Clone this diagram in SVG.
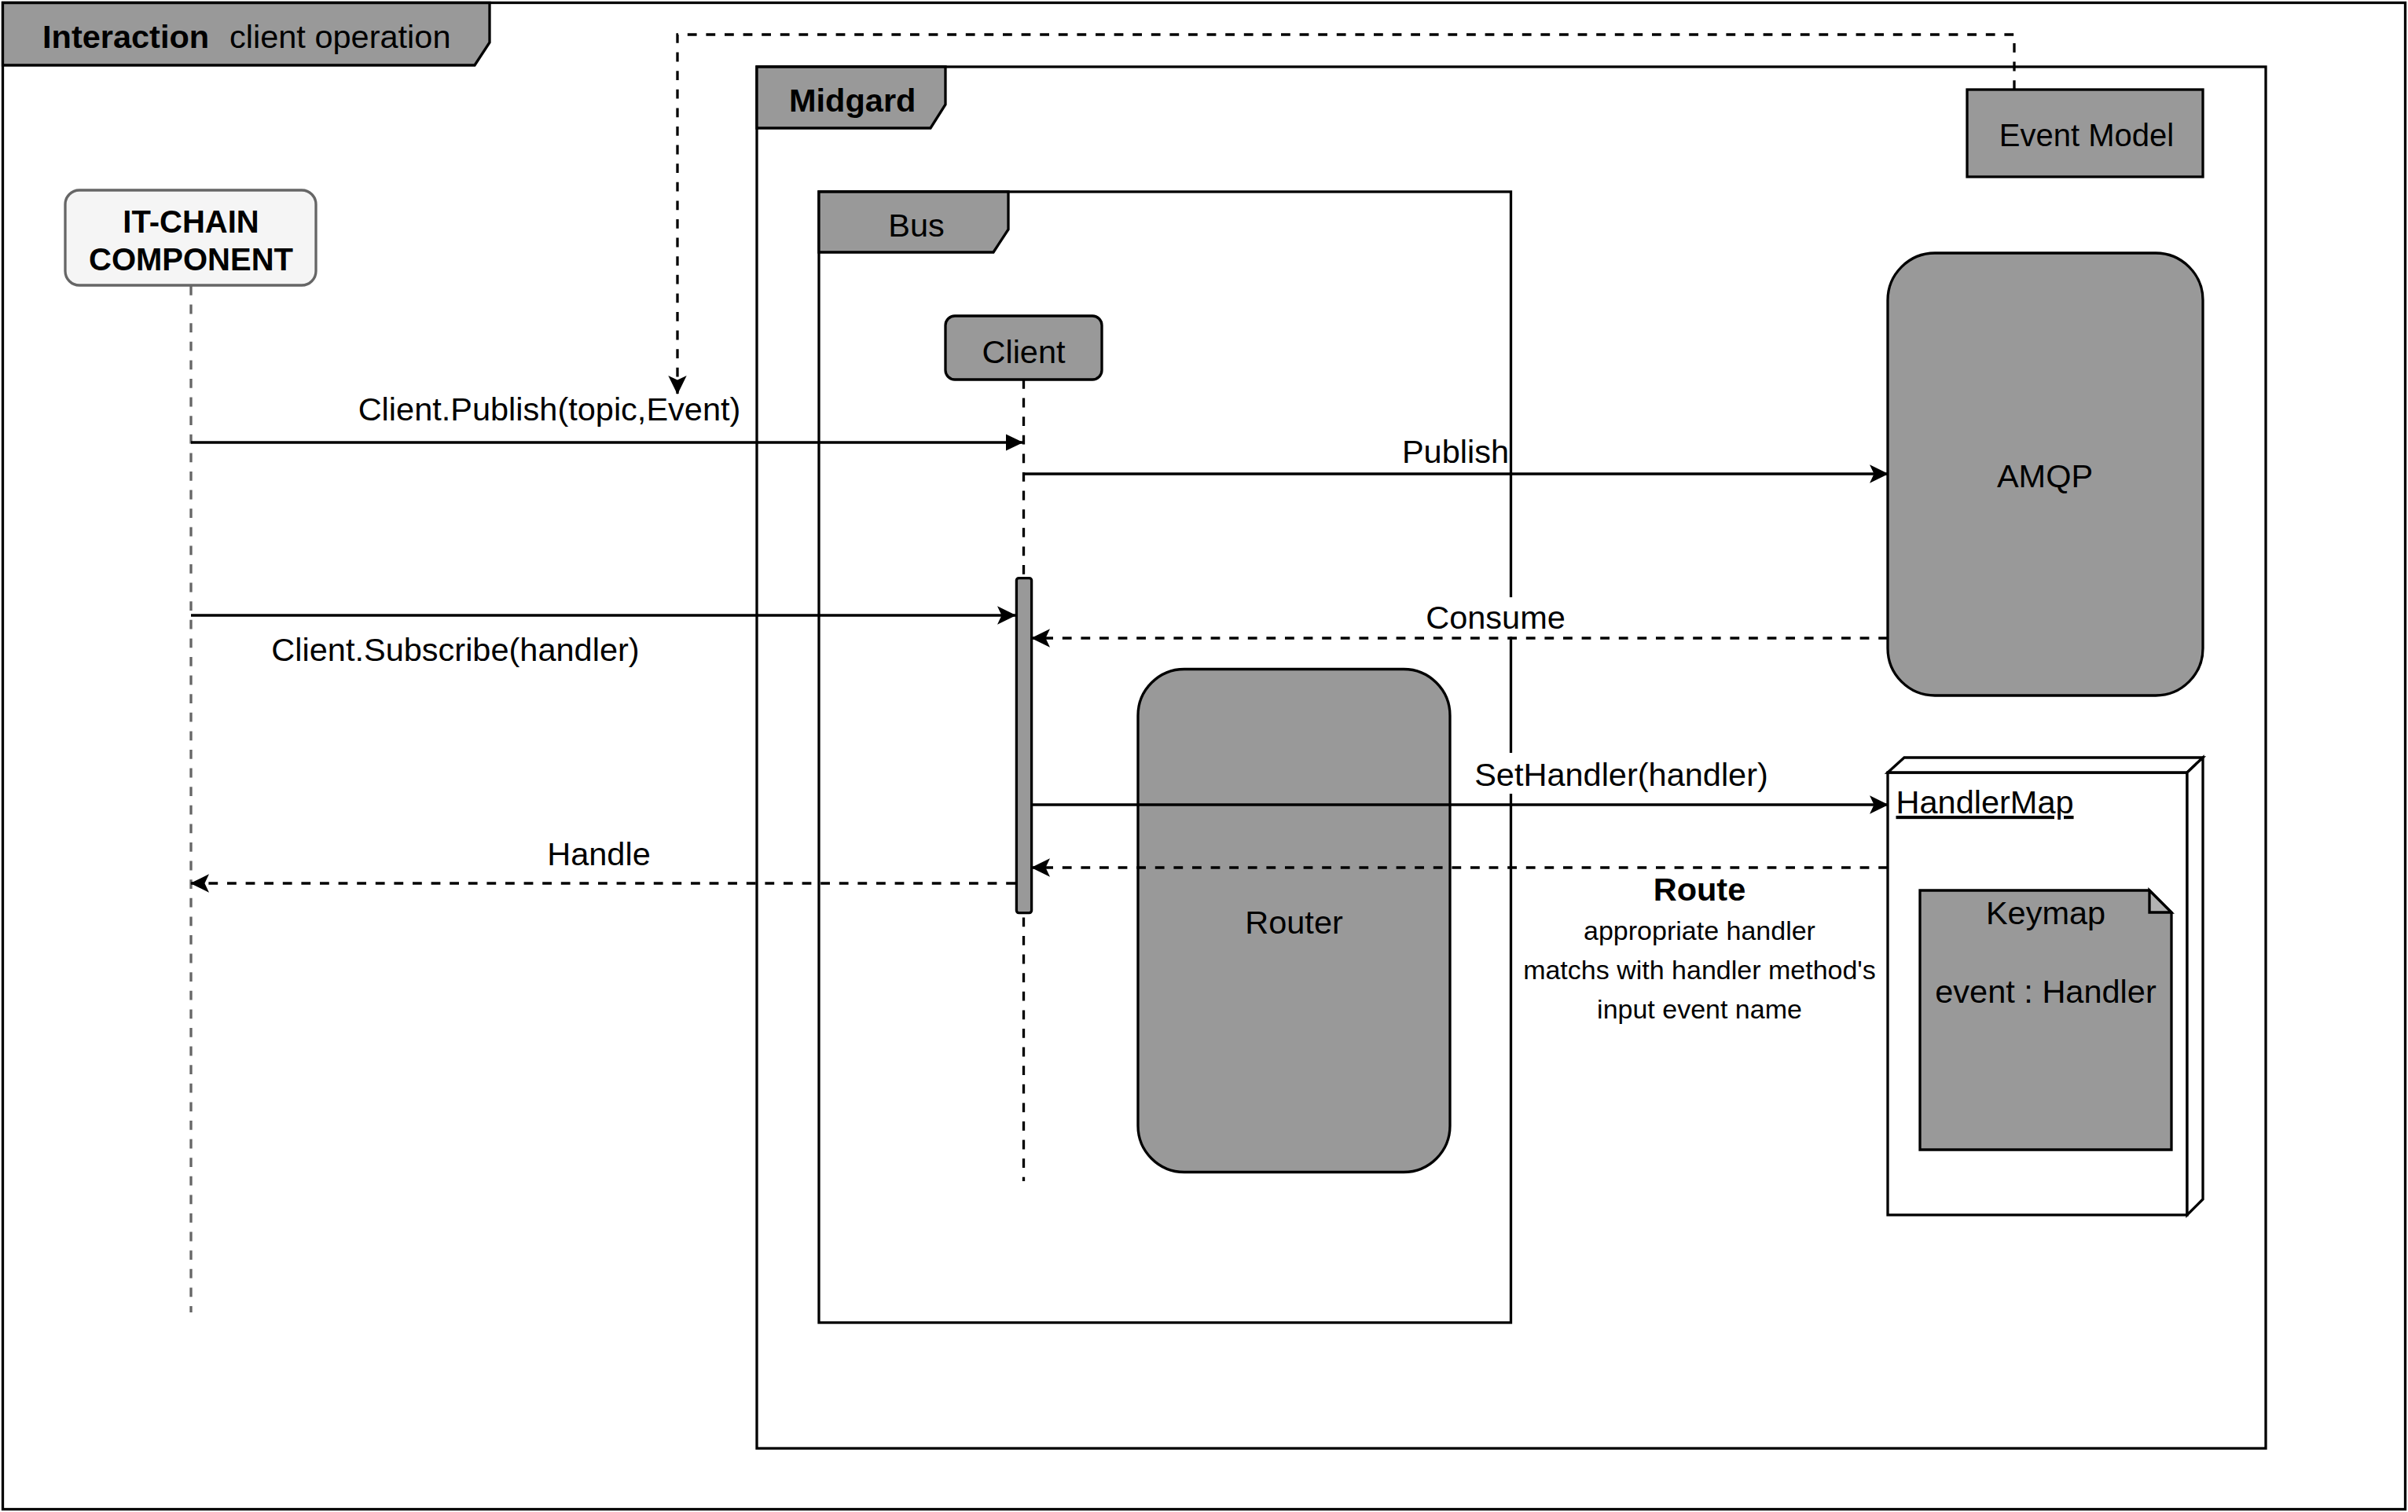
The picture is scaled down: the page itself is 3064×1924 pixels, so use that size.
<svg xmlns="http://www.w3.org/2000/svg" width="3064" height="1924" viewBox="0 0 3064 1924">
<style>
text{font-family:"Liberation Sans",Arial,Helvetica,sans-serif;font-size:41.5px;fill:#000}
.b{font-weight:bold}
.m{text-anchor:middle}
.s{font-size:34px}
.f40{font-size:40px}
.ln{fill:none;stroke:#000;stroke-width:3.3}
.gray{fill:#999;stroke:#000;stroke-width:3.3}
.white{fill:#fff;stroke:#000;stroke-width:3.3}
.dash{stroke-dasharray:11.8 11.8}
.conn{fill:none;stroke:#000;stroke-width:3.3}
</style>
<defs>
<marker id="classic" viewBox="0 0 24 24" refX="23" refY="12" markerWidth="24" markerHeight="24" markerUnits="userSpaceOnUse" orient="auto">
<path d="M0,0.3 L24,12 L0,23.7 L5.5,12 Z" fill="#000"/>
</marker>
<marker id="block" viewBox="0 0 22 22" refX="21" refY="11" markerWidth="22" markerHeight="22" markerUnits="userSpaceOnUse" orient="auto">
<path d="M0,0.5 L22,11 L0,21.5 Z" fill="#000"/>
</marker>
</defs>
<rect width="3064" height="1924" fill="#fff"/>

<g id="frame-interaction">
<rect x="3.5" y="3.5" width="3057" height="1917" class="ln"/>
<path d="M3.5,3.5 H623 V54 L604,83 H3.5 Z" class="gray"/>
<text x="54" y="61" class="b">Interaction</text>
<text x="292" y="61">client operation</text>
</g>

<g id="frame-midgard">
<rect x="963" y="85" width="1920" height="1758" class="ln"/>
<path d="M963,85 H1203 V133 L1184,163 H963 Z" class="gray"/>
<text x="1004" y="142" class="b">Midgard</text>
</g>

<g id="frame-bus">
<rect x="1042" y="244" width="880.5" height="1439" class="ln"/>
<path d="M1042,244 H1283 V292 L1264,321 H1042 Z" class="gray"/>
<text x="1166" y="301" class="m">Bus</text>
</g>

<g id="it-chain-component">
<line x1="243" y1="364" x2="243" y2="1670" stroke="#666" stroke-width="3.3" class="dash"/>
<rect x="83" y="242" width="319" height="121" rx="18" fill="#f5f5f5" stroke="#666" stroke-width="3.3"/>
<text x="243" y="296" class="b m f40">IT-CHAIN</text>
<text x="243" y="344" class="b m f40">COMPONENT</text>
</g>

<g id="client">
<line x1="1302.5" y1="483" x2="1302.5" y2="1503" class="ln dash"/>
<rect x="1203" y="402" width="199" height="81" rx="12" class="gray"/>
<text x="1302.5" y="462" class="m">Client</text>
<rect x="1293.4" y="735.6" width="19.2" height="426" rx="3" class="gray"/>
</g>

<g id="event-model">
<rect x="2503" y="114" width="300" height="111" class="gray"/>
<text x="2655" y="186" class="m f40">Event Model</text>
</g>

<g id="amqp">
<rect x="2402" y="322" width="401" height="563" rx="60" class="gray"/>
<text x="2602" y="620" class="m">AMQP</text>
</g>

<g id="router">
<rect x="1448" y="851.5" width="397" height="640" rx="59" class="gray"/>
<text x="1646.5" y="1188" class="m">Router</text>
</g>

<g id="handlermap">
<rect x="2402" y="983" width="381" height="563" class="white"/>
<path d="M2402,983 L2423,964 H2803 L2783,983 Z" class="white"/>
<path d="M2783,983 L2803,964 V1526 L2783,1546 Z" class="white"/>
<text x="2412.5" y="1035" text-decoration="underline">HandlerMap</text>
</g>

<g id="keymap">
<path d="M2443,1133 H2735 L2763,1161 V1463 H2443 Z" class="gray"/>
<path d="M2735,1133 V1161 H2763 Z" fill="#b3b3b3" stroke="#000" stroke-width="3.3" stroke-linejoin="miter"/>
<text x="2603" y="1176" class="m">Keymap</text>
<text x="2603" y="1276" class="m">event : Handler</text>
</g>

<g id="connectors">
<path d="M2563,114 V44 H862 V501" class="conn dash" marker-end="url(#classic)"/>
<path d="M243,563 H1301" class="conn" marker-end="url(#block)"/>
<path d="M1302.5,603 H2402" class="conn" marker-end="url(#classic)"/>
<path d="M243,783 H1292" class="conn" marker-end="url(#classic)"/>
<path d="M2402,812 H1313" class="conn dash" marker-end="url(#classic)"/>
<path d="M1313,1024 H2402" class="conn" marker-end="url(#classic)"/>
<path d="M2402,1104 H1313" class="conn dash" marker-end="url(#classic)"/>
<path d="M1292,1124 H243" class="conn dash" marker-end="url(#classic)"/>

<text x="699" y="535" class="m">Client.Publish(topic,Event)</text>
<text x="1852" y="589" class="m">Publish</text>
<text x="579.5" y="841" class="m">Client.Subscribe(handler)</text>
<rect x="1811" y="760" width="184" height="50" fill="#fff"/>
<text x="1903" y="800" class="m">Consume</text>
<rect x="1872" y="958" width="382" height="52" fill="#fff"/>
<text x="2063" y="1000" class="m">SetHandler(handler)</text>
<text x="762" y="1101" class="m">Handle</text>
<text x="2162.5" y="1146" class="b m">Route</text>
<text x="2162.5" y="1196" class="s m">appropriate handler</text>
<text x="2162.5" y="1246" class="s m">matchs with handler method's</text>
<text x="2162.5" y="1296" class="s m">input event name</text>
</g>
</svg>
